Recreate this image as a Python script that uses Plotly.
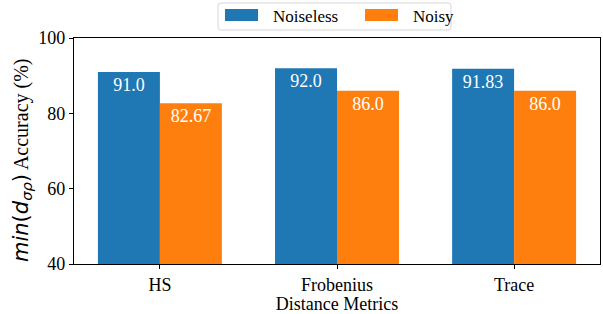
import plotly.graph_objects as go

categories = ["HS", "Frobenius", "Trace"]
noiseless = [91.0, 92.0, 91.83]
noisy = [82.67, 86.0, 86.0]
noiseless_labels = ["91.0", "92.0", "91.83"]
noisy_labels = ["82.67", "86.0", "86.0"]
y_ticks = [40, 60, 80, 100]
series_names = ["Noiseless", "Noisy"]
series_colors = ["#1f77b4", "#ff7f0e"]
y_title = ("<span style=\"font-family:DejaVu Sans;font-size:21px\"><i>min</i>(<i>d</i>"
           "<sub><i>σρ</i></sub>)</span> Accuracy (%)")

x_idx = list(range(len(categories)))
w = 0.35
serif = "Liberation Serif"

W, H = 603, 314
ML, MR, MT, MB = 74, 3, 38, 50
PW, PH = W - ML - MR, H - MT - MB


def px(x):
    return (x - ML) / PW


def py(y):
    return (H - MB - y) / PH


fig = go.Figure()
fig.add_trace(go.Bar(
    x=[i - w / 2 for i in x_idx], y=noiseless, width=w, name=series_names[0],
    marker=dict(color=series_colors[0], line=dict(width=0)),
    text=noiseless_labels, textposition="inside", insidetextanchor="end",
    textfont=dict(family=serif, size=18, color="white"), textangle=0,
    showlegend=False,
))
fig.add_trace(go.Bar(
    x=[i + w / 2 for i in x_idx], y=noisy, width=w, name=series_names[1],
    marker=dict(color=series_colors[1], line=dict(width=0)),
    text=noisy_labels, textposition="inside", insidetextanchor="end",
    textfont=dict(family=serif, size=18, color="white"), textangle=0,
    showlegend=False,
))

# manual legend (matplotlib style: wide patches in a rounded frame)
x0, x1, y0, y1, r = 218, 451, 3, 30, 3
path = (
    f"M {px(x0 + r)} {py(y0)} L {px(x1 - r)} {py(y0)} "
    f"Q {px(x1)} {py(y0)} {px(x1)} {py(y0 + r)} L {px(x1)} {py(y1 - r)} "
    f"Q {px(x1)} {py(y1)} {px(x1 - r)} {py(y1)} L {px(x0 + r)} {py(y1)} "
    f"Q {px(x0)} {py(y1)} {px(x0)} {py(y1 - r)} L {px(x0)} {py(y0 + r)} "
    f"Q {px(x0)} {py(y0)} {px(x0 + r)} {py(y0)} Z"
)
shapes = [dict(type="path", xref="paper", yref="paper", path=path,
               line=dict(color="#d6d6d6", width=1), fillcolor="white")]
annotations = []
patch_x = [225, 365]
text_x = [271, 411]
for k in range(2):
    shapes.append(dict(type="rect", xref="paper", yref="paper",
                       x0=px(patch_x[k]), x1=px(patch_x[k] + 33),
                       y0=py(21), y1=py(9),
                       fillcolor=series_colors[k], line=dict(width=0)))
    annotations.append(dict(xref="paper", yref="paper", x=px(text_x[k]), y=py(16),
                            xanchor="left", yanchor="middle", showarrow=False,
                            text=series_names[k],
                            font=dict(family=serif, size=17, color="black")))

annotations.append(dict(xref="paper", yref="paper", x=px(22), y=py(160),
                        xanchor="center", yanchor="middle", showarrow=False,
                        textangle=-90, text=y_title,
                        font=dict(family=serif, size=20, color="black")))

fig.update_layout(
    width=W, height=H,
    margin=dict(l=ML, r=MR, t=MT, b=MB, autoexpand=False),
    plot_bgcolor="white", paper_bgcolor="white",
    font=dict(family=serif, size=18, color="black"),
    barmode="overlay",
    showlegend=False,
    uniformtext=dict(minsize=10, mode="show"),
    shapes=shapes,
    annotations=annotations,
    xaxis=dict(
        tickmode="array", tickvals=x_idx, ticktext=categories,
        range=[-0.485, 2.485], showline=True, linecolor="black", linewidth=1.2,
        mirror=True, ticks="outside", ticklen=4, tickcolor="black",
        showgrid=False, zeroline=False,
        title=dict(text="Distance Metrics", standoff=0, font=dict(family=serif, size=18)),
    ),
    yaxis=dict(
        range=[40, 100], tickvals=y_ticks, showline=True, linecolor="black",
        linewidth=1.2, mirror=True, ticks="outside", ticklen=4, tickcolor="black",
        showgrid=False, zeroline=False,
    ),
)

fig.write_html(
    "out.html",
    config=dict(displayModeBar=False),
    post_script="document.body.style.margin='0';document.body.style.overflow='hidden';",
)
